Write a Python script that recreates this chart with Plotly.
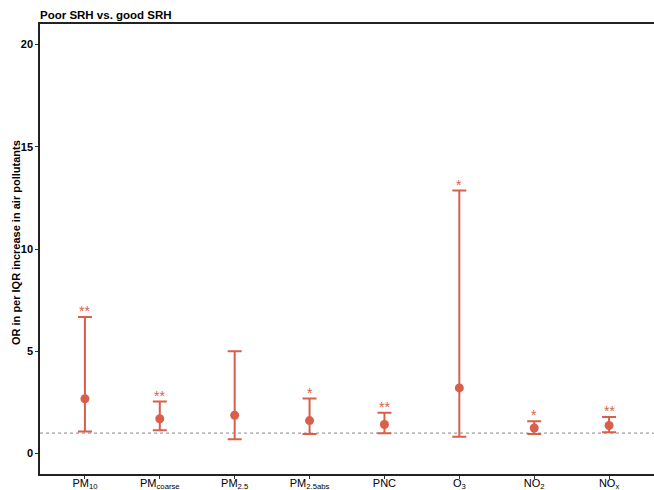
import plotly.graph_objects as go

categories = ["PM10", "PMcoarse", "PM2.5", "PM2.5abs", "PNC", "O3", "NO2", "NOx"]
tick_labels = ["PM<sub>10</sub>", "PM<sub>coarse</sub>", "PM<sub>2.5</sub>", "PM<sub>2.5abs</sub>",
               "PNC", "O<sub>3</sub>", "NO<sub>2</sub>", "NO<sub>x</sub>"]
odds_ratio = [2.68, 1.70, 1.87, 1.61, 1.42, 3.21, 1.25, 1.37]
ci_lower = [1.08, 1.14, 0.70, 0.95, 0.99, 0.82, 0.96, 1.04]
ci_upper = [6.67, 2.54, 5.00, 2.69, 2.00, 12.86, 1.58, 1.79]
significance = ["**", "**", "", "*", "**", "*", "*", "**"]
reference_value = 1

RED = "#DA5F4B"
FONT = "Liberation Sans, Arial, sans-serif"

fig = go.Figure()
fig.add_trace(go.Scatter(
    x=categories, y=odds_ratio, mode="markers",
    marker=dict(color=RED, size=9),
    error_y=dict(type="data", symmetric=False,
                 array=[u - o for u, o in zip(ci_upper, odds_ratio)],
                 arrayminus=[o - l for o, l in zip(odds_ratio, ci_lower)],
                 color=RED, thickness=2, width=7),
    showlegend=False, hoverinfo="skip",
))

fig.add_hline(y=reference_value, line=dict(color="#888888", width=1, dash="dot"), layer="below")

for c, u, s in zip(categories, ci_upper, significance):
    if s:
        fig.add_annotation(x=c, y=u, text=s, showarrow=False, yanchor="bottom",
                           yshift=-4, font=dict(family=FONT, size=14, color=RED))

# y-axis title placed as rotated text
fig.add_annotation(text="<b>OR in per IQR increase in air pollutants</b>",
                   xref="paper", yref="paper", x=(16 - 40) / 614, y=(474 - 243) / 450,
                   xanchor="center", yanchor="middle", textangle=-90, showarrow=False,
                   font=dict(family=FONT, size=11, color="black"))

fig.update_layout(
    width=654, height=490,
    margin=dict(l=40, r=0, t=24, b=16),
    paper_bgcolor="white", plot_bgcolor="white",
    font=dict(family=FONT, size=11, color="black"),
    title=dict(text="<b>Poor SRH vs. good SRH</b>", x=40/654, xanchor="left",
               y=1 - 15/490, yanchor="middle", font=dict(family=FONT, size=11.5, color="black")),
)
fig.update_xaxes(
    type="category", categoryorder="array", categoryarray=categories,
    tickvals=categories, ticktext=tick_labels,
    range=[-0.6, 7.6], showgrid=False, zeroline=False, automargin=False,
    showline=True, linecolor="#222222", linewidth=1.5, mirror=True,
    ticks="outside", ticklen=3, tickcolor="#333333", ticklabelstandoff=-5,
    tickfont=dict(family=FONT, size=11, color="black"),
)
fig.update_yaxes(
    range=[-1, 21], tickvals=[0, 5, 10, 15, 20],
    ticktext=["<b>0</b>", "<b>5</b>", "<b>10</b>", "<b>15</b>", "<b>20</b>"],
    showgrid=False, zeroline=False, automargin=False,
    showline=True, linecolor="#222222", linewidth=1.5,
    ticks="outside", ticklen=3, tickcolor="#333333",
    tickfont=dict(family=FONT, size=11, color="black"),
)

fig.write_html("out.html")
